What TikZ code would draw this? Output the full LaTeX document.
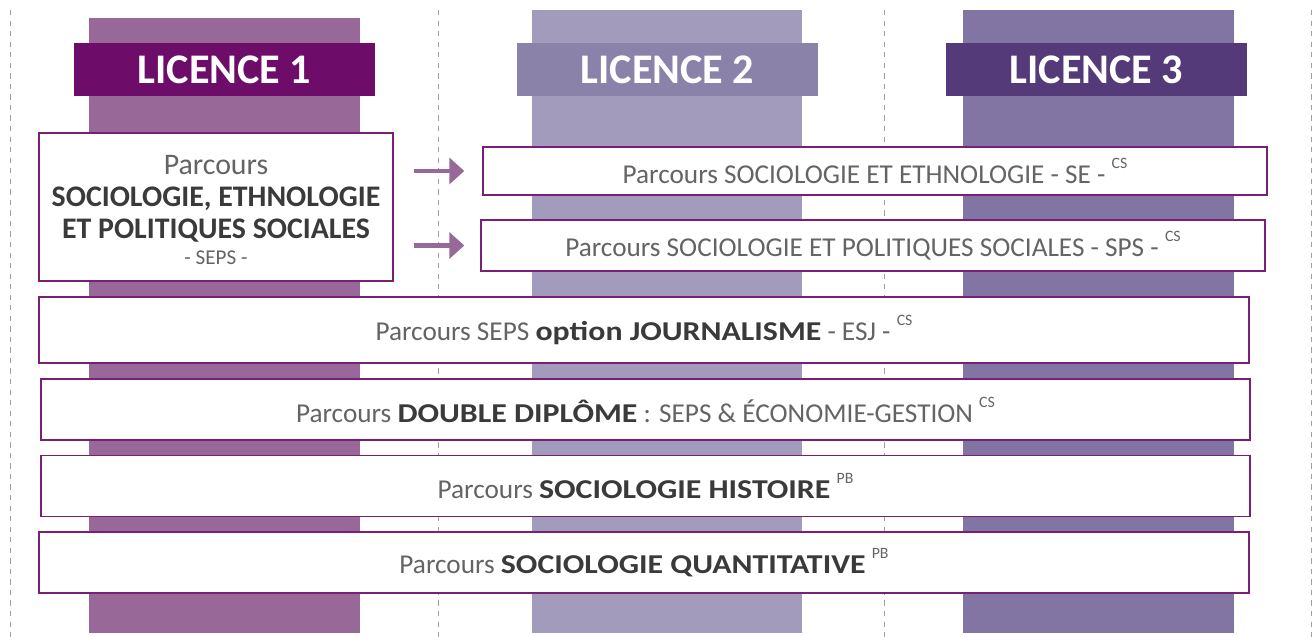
\documentclass[tikz,border=0pt]{standalone}
\usepackage{fontspec}
\usepackage{graphicx}
\setmainfont{Carlito}
\usetikzlibrary{arrows.meta}

\definecolor{colA}{RGB}{151,104,152}
\definecolor{colB}{RGB}{162,155,187}
\definecolor{colC}{RGB}{130,117,163}
\definecolor{headA}{RGB}{110,13,105}
\definecolor{headB}{RGB}{138,130,168}
\definecolor{headC}{RGB}{85,58,122}
\definecolor{boxline}{RGB}{122,30,120}
\definecolor{textlight}{RGB}{100,100,100}
\definecolor{textdark}{RGB}{58,58,58}

\newcommand{\gras}[1]{{\bfseries\color{textdark}\scalebox{1.17}[1]{#1}}}
\newcommand{\expo}[1]{\raisebox{0.55em}{\fontsize{9}{9}\selectfont #1}}

\tikzset{
  licence/.style={fill=#1, text=white, inner sep=0pt,
    minimum width=6.02cm, minimum height=1.06cm,
    font=\fontsize{24}{26}\selectfont\bfseries},
  parcours/.style={draw=boxline, line width=0.8pt, fill=white, text=textlight,
    inner sep=0pt, font=\fontsize{15.5}{19}\selectfont},
  fleche/.style={draw=colA, line width=2.3pt, -{Triangle[width=0.52cm,length=0.3cm]}},
  separ/.style={draw=gray!75, dashed, line width=0.5pt}
}

\begin{document}
\begin{tikzpicture}
	\useasboundingbox (0,0) rectangle (26.28,-12.74);
	
	%Separators
	\draw[separ] (0.2,-0.2) -- (0.2,-12.74);
	\draw[separ] (8.76,-0.2) -- (8.76,-12.74);
	\draw[separ] (17.68,-0.2) -- (17.68,-12.74);
	\draw[separ] (26.22,-0.2) -- (26.22,-12.74);
	
	%Columns
	\fill[colA] (1.78,-0.36) rectangle (7.2,-12.66);
	\fill[colB] (10.64,-0.2) rectangle (16.04,-12.66);
	\fill[colC] (19.26,-0.2) rectangle (24.68,-12.66);
	
	\node[licence=headA] (l1) at (4.49,-1.4) {LICENCE 1};
	\node[licence=headB] (l2) at (13.35,-1.4) {LICENCE 2};
	\node[licence=headC] (l3) at (21.93,-1.4) {LICENCE 3};
	
	%Parcours
	\node[parcours, minimum width=7.08cm, minimum height=2.96cm, align=center,
		font=\fontsize{17}{18.2}\selectfont] (seps) at (4.32,-4.14)
		{\\[-4pt]Parcours\\ {\bfseries\color{textdark}SOCIOLOGIE, ETHNOLOGIE}\\ {\bfseries\color{textdark}ET POLITIQUES SOCIALES}\\[-3pt]
		{\fontsize{12}{12}\selectfont - SEPS -}};
	
	\node[parcours, minimum width=15.68cm, minimum height=0.96cm] (se) at (17.5,-3.42)
		{Parcours SOCIOLOGIE ET ETHNOLOGIE - SE - \expo{CS}};
	\node[parcours, minimum width=15.68cm, minimum height=1.02cm] (sps) at (17.46,-4.91)
		{Parcours SOCIOLOGIE ET POLITIQUES SOCIALES - SPS - \expo{CS}};
	
	\draw[fleche] ([xshift=0.4cm]seps.east |- se) -- ([xshift=-0.36cm]se.west);
	\draw[fleche] ([xshift=0.4cm]seps.east |- sps) -- ([xshift=-0.32cm]sps.west);
	
	\node[parcours, minimum width=24.2cm, minimum height=1.32cm] (esj) at (12.88,-6.6)
		{Parcours SEPS \gras{option JOURNALISME} - ESJ - \expo{CS}};
	\node[parcours, minimum width=24.18cm, minimum height=1.22cm] (dd) at (12.91,-8.19)
		{Parcours \gras{DOUBLE DIPLÔME} : SEPS \& ÉCONOMIE-GESTION \expo{CS}};
	\node[parcours, minimum width=24.18cm, minimum height=1.22cm] (sh) at (12.91,-9.72)
		{Parcours \gras{SOCIOLOGIE HISTOIRE} \expo{PB}};
	\node[parcours, minimum width=24.2cm, minimum height=1.22cm] (sq) at (12.88,-11.25)
		{Parcours \gras{SOCIOLOGIE QUANTITATIVE} \expo{PB}};
	
\end{tikzpicture}
\end{document}
